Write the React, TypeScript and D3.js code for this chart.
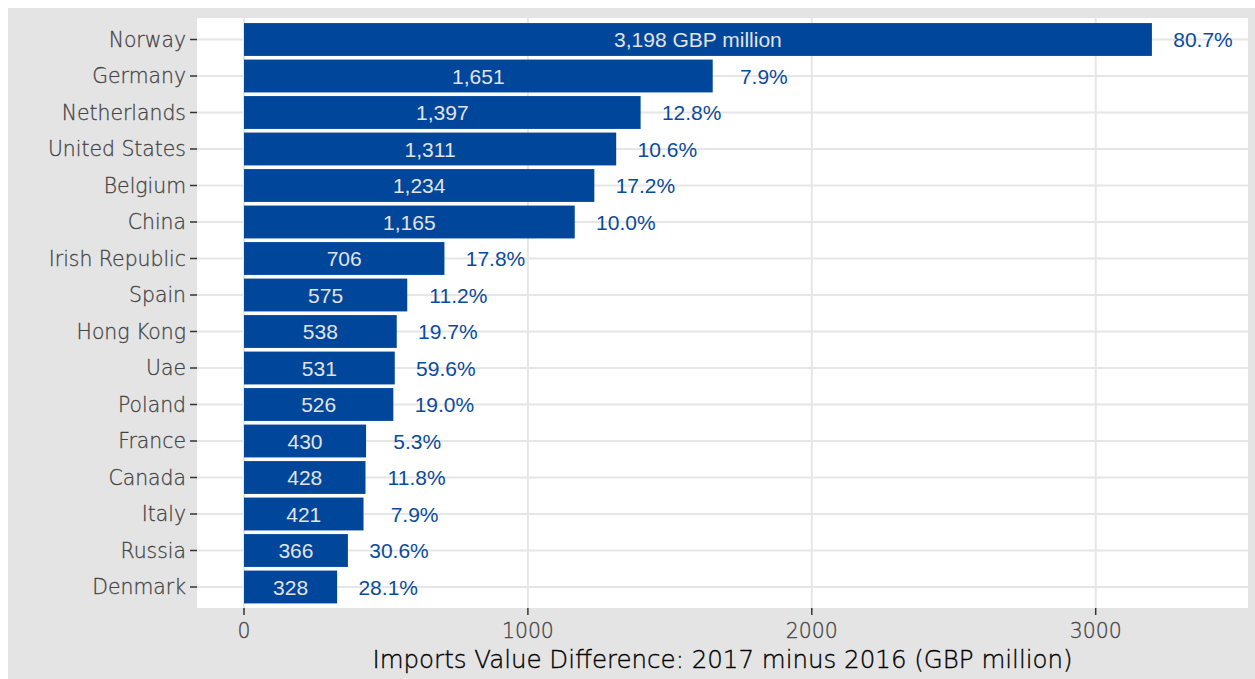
import React from "react";
import * as d3 from "d3";

const countries = ["Norway","Germany","Netherlands","United States","Belgium","China","Irish Republic","Spain","Hong Kong","Uae","Poland","France","Canada","Italy","Russia","Denmark"];
const diffValues = [3198,1651,1397,1311,1234,1165,706,575,538,531,526,430,428,421,366,328];
const pctLabels = ["80.7%","7.9%","12.8%","10.6%","17.2%","10.0%","17.8%","11.2%","19.7%","59.6%","19.0%","5.3%","11.8%","7.9%","30.6%","28.1%"];
const xTicks = [0,1000,2000,3000];
const xTitle = "Imports Value Difference: 2017 minus 2016 (GBP million)";

const W = 1247, H = 671;
// coordinates inside svg (svg placed at 8,8)
const panel = { left: 189, right: 1240, top: 10, bottom: 600 };
const labelFont = "'DejaVu Sans', sans-serif";

export default function App() {
  const x = d3.scaleLinear().domain([0, 3000]).range([236, 236 + 3 * 283.9]);
  const y = d3.scaleBand<string>().domain(countries).range([13.25, 597.25]).paddingInner(0.1).paddingOuter(0.05);
  const barColor = "#00479b";
  const fmt = d3.format(",");
  const cx = (panel.left + panel.right) / 2;
  return (
    <svg width={W} height={H} style={{ position: "absolute", left: 8, top: 8, display: "block" }}>
      <rect x={0} y={0} width={W} height={H} fill="#e4e4e4" />
      <rect x={panel.left} y={panel.top} width={panel.right - panel.left} height={panel.bottom - panel.top} fill="#ffffff" />
      {countries.map((c) => {
        const cy = (y(c) as number) + y.bandwidth() / 2;
        return <line key={"hg" + c} x1={panel.left} x2={panel.right} y1={cy} y2={cy} stroke="#e6e6e6" strokeWidth={2} />;
      })}
      {xTicks.map((t) => (
        <line key={"vg" + t} x1={x(t)} x2={x(t)} y1={panel.top} y2={panel.bottom} stroke="#e6e6e6" strokeWidth={2} />
      ))}
      {countries.map((c, i) => {
        const v = diffValues[i];
        const y0 = y(c) as number;
        const cy = y0 + y.bandwidth() / 2;
        return (
          <g key={"b" + c}>
            <rect x={x(0)} y={y0} width={x(v) - x(0)} height={y.bandwidth()} fill={barColor} />
            <text x={(x(0) + x(v)) / 2} y={cy} dy="0.36em" textAnchor="middle" fill="#e3e3e3"
              style={{ fontFamily: "'Liberation Sans', Arial, sans-serif", fontSize: 21 }}>
              {i === 0 ? fmt(v) + " GBP million" : fmt(v)}
            </text>
            <text x={x(v + 180)} y={cy} dy="0.36em" textAnchor="middle" fill="#0a4b9e"
              style={{ fontFamily: "'Liberation Sans', Arial, sans-serif", fontSize: 21 }}>
              {pctLabels[i]}
            </text>
          </g>
        );
      })}
      {countries.map((c) => {
        const cy = (y(c) as number) + y.bandwidth() / 2;
        return (
          <g key={"yt" + c}>
            <line x1={panel.left - 7} x2={panel.left} y1={cy} y2={cy} stroke="#333333" strokeWidth={1.5} />
            <text x={panel.left - 11} y={cy} dy="0.36em" textAnchor="end" fill="#444444" stroke="#444444" strokeWidth={0.3}
              style={{ fontFamily: labelFont, fontSize: 20.4, fontWeight: 200 }}>{c}</text>
          </g>
        );
      })}
      {xTicks.map((t) => (
        <g key={"xt" + t}>
          <line x1={x(t)} x2={x(t)} y1={panel.bottom} y2={panel.bottom + 7} stroke="#333333" strokeWidth={1.5} />
          <text x={x(t)} y={panel.bottom + 30} textAnchor="middle" fill="#444444" stroke="#444444" strokeWidth={0.3}
            style={{ fontFamily: labelFont, fontSize: 20.4, fontWeight: 200 }}>{t}</text>
        </g>
      ))}
      <text x={cx} y={660} textAnchor="middle" fill="#000000" stroke="#000000" strokeWidth={0.35}
        style={{ fontFamily: labelFont, fontSize: 24.5, fontWeight: 200 }}>
        {xTitle}
      </text>
    </svg>
  );
}
